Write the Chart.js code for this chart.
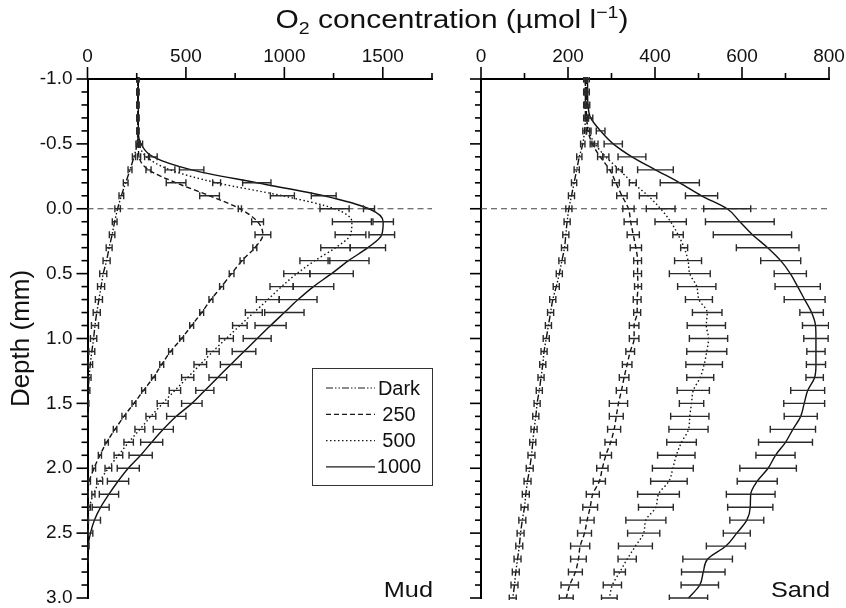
<!DOCTYPE html>
<html>
<head>
<meta charset="utf-8">
<script src="https://cdn.jsdelivr.net/npm/chart.js@4.4.0/dist/chart.umd.min.js"></script>
<style>
  body { margin: 0; background: #fff; }
  #wrap { position: relative; width: 846px; height: 608px; overflow: hidden; font-family: "Liberation Sans", Arial, sans-serif; color: #111; }
  #mudChart { position: absolute; left: 0; top: 0; }
  #sandChart { position: absolute; left: 440px; top: 0; }
  #title { position: absolute; left: 452px; top: 4px; font-size: 26px; line-height: 30px; white-space: nowrap;
           transform: translateX(-50%) scaleX(1.15); }
  #title sub, #title sup { font-size: 17px; line-height: 0; }
</style>
</head>
<body>
<div id="wrap">
  <canvas id="mudChart" width="440" height="608"></canvas>
  <canvas id="sandChart" width="406" height="608"></canvas>
  <div id="title">O<sub>2</sub> concentration (µmol l<sup>−1</sup>)</div>
</div>
<script>
// depth below sediment surface (mm), one row every 0.1 mm
var depth = [-1.0, -0.9, -0.8, -0.7, -0.6, -0.5, -0.4, -0.3, -0.2, -0.1,
              0.0,  0.1,  0.2,  0.3,  0.4,  0.5,  0.6,  0.7,  0.8,  0.9,
              1.0,  1.1,  1.2,  1.3,  1.4,  1.5,  1.6,  1.7,  1.8,  1.9,
              2.0,  2.1,  2.2,  2.3,  2.4,  2.5,  2.6,  2.7,  2.8,  2.9, 3.0];

var seriesNames = ['Dark', '250', '500', '1000'];

// Mud: mean O2 (umol/l) and +-error, null = below detection / not measured
var mudDark = [255, 255, 255, 255, 255, 252, 236, 216, 194, 172,
               153, 138, 125, 110, 97, 80, 69, 58, 47, 38,
               31, 22, 14, 8, 4, 2, 0, null, null, null,
               null, null, null, null, null, null, null, null, null, null, null];
var mudDarkErr = [4, 4, 4, 4, 4, 6, 8, 10, 12, 12,
                  14, 12, 14, 15, 18, 18, 18, 18, 18, 18,
                  16, 15, 12, 10, 8, 5, 3, null, null, null,
                  null, null, null, null, null, null, null, null, null, null, null];

var mud250 = [255, 255, 255, 255, 255, 258, 262, 310, 450, 620,
              774, 864, 891, 850, 785, 732, 681, 627, 580, 529,
              478, 422, 377, 335, 285, 236, 185, 140, 97, 63,
              33, 9, 0, null, null, null, null, null, null, null, null];
var mud250Err = [4, 4, 4, 4, 4, 6, 8, 13, 50, 50,
                 8, 30, 40, 10, 10, 12, 10, 10, 10, 10,
                 10, 10, 10, 10, 10, 10, 10, 9, 9, 8,
                 8, 6, 3, null, null, null, null, null, null, null, null];

var mud500 = [255, 255, 255, 255, 255, 262, 300, 419, 656, 990,
              1255, 1343, 1336, 1260, 1155, 1063, 986, 916, 845, 774,
              705, 637, 573, 509, 444, 382, 322, 266, 209, 157,
              106, 62, 30, 10, 2, 0, null, null, null, null, null];
var mud500Err = [4, 4, 4, 4, 4, 6, 10, 25, 20, 61,
                 74, 99, 78, 75, 76, 66, 59, 58, 43, 37,
                 36, 32, 32, 31, 29, 28, 25, 25, 24, 22,
                 17, 15, 8, 5, 3, 2, null, null, null, null, null];

var mud1000 = [258, 258, 258, 258, 258, 272, 334, 529, 860, 1200,
               1430, 1502, 1495, 1424, 1326, 1240, 1148, 1070, 1000, 930,
               862, 795, 728, 662, 596, 530, 451, 385, 326, 270,
               207, 155, 109, 67, 35, 15, 3, 0, null, null, null];
var mud1000Err = [4, 4, 4, 4, 4, 8, 20, 62, 72, 63,
                  28, 52, 65, 90, 104, 110, 103, 96, 100, 79,
                  71, 60, 53, 45, 46, 52, 49, 51, 56, 59,
                  56, 54, 49, 43, 31, 12, 5, 2, null, null, null];

// Sand
var sandDark = [240, 240, 240, 240, 238, 234, 226, 220, 214, 208,
                202, 198, 195, 192, 186, 180, 173, 165, 160, 155,
                150, 145, 142, 138, 134, 129, 126, 122, 119, 116,
                112, 107, 103, 100, 95, 91, 88, 84, 80, 77, 73];
var sandDarkErr = [4, 4, 4, 4, 4, 5, 6, 6, 6, 7,
                   7, 7, 7, 7, 7, 7, 7, 7, 7, 7,
                   7, 7, 7, 7, 7, 7, 7, 7, 7, 8,
                   8, 8, 8, 8, 8, 8, 8, 8, 8, 8, 8];

var sand250 = [242, 242, 242, 243, 246, 256, 274, 296, 310, 324,
               339, 344, 350, 356, 360, 360, 361, 359, 359, 352,
               352, 343, 336, 329, 323, 316, 311, 306, 298, 287,
               279, 272, 257, 251, 244, 238, 228, 224, 217, 204, 196];
var sand250Err = [3, 3, 3, 3, 4, 5, 6, 6, 8, 12,
                  13, 15, 14, 13, 9, 9, 8, 9, 8, 11,
                  11, 10, 11, 11, 12, 21, 16, 15, 13, 13,
                  13, 14, 15, 17, 16, 16, 22, 18, 16, 20, 16];

var sand500 = [240, 240, 241, 243, 248, 262, 287, 318, 349, 384,
               413, 436, 453, 467, 476, 480, 496, 501, 520, 518,
               523, 519, 513, 504, 488, 484, 480, 477, 461, 449,
               441, 432, 408, 402, 379, 374, 355, 336, 319, 302, 295];
var sand500Err = [3, 3, 3, 4, 5, 7, 7, 7, 8, 20,
                  33, 36, 12, 8, 31, 47, 44, 31, 34, 44,
                  44, 46, 42, 31, 37, 28, 44, 45, 34, 43,
                  47, 42, 48, 40, 46, 37, 39, 21, 13, 21, 18];

var sand1000 = [245, 245, 246, 252, 275, 304, 347, 401, 457, 507,
                566, 595, 624, 659, 689, 711, 728, 744, 760, 769,
                770, 770, 770, 767, 751, 743, 735, 717, 700, 677,
                660, 635, 620, 619, 611, 588, 563, 521, 511, 503, 477];
var sand1000Err = [4, 4, 4, 5, 10, 21, 32, 41, 45, 37,
                   54, 79, 90, 72, 46, 37, 52, 47, 27, 30,
                   28, 21, 22, 20, 39, 47, 38, 52, 62, 45,
                   65, 46, 56, 52, 39, 31, 45, 57, 50, 43, 44];

var lineDashes = [[7, 2, 1.5, 2, 1.5, 2], [5, 3], [1.5, 2.5], []];

function makePoints(vals, errs) {
  var pts = [];
  for (var i = 0; i < depth.length; i++) {
    if (vals[i] === null) continue;
    pts.push({x: vals[i], y: depth[i], e: errs[i]});
  }
  return pts;
}

function makeDatasets(list) {
  return list.map(function (s, i) {
    return {
      label: seriesNames[i],
      data: makePoints(s[0], s[1]),
      borderColor: '#111',
      borderWidth: 1.4,
      borderDash: lineDashes[i],
      pointRadius: 0,
      fill: false,
      cubicInterpolationMode: 'monotone'
    };
  });
}

var extras = {
  id: 'extras',
  beforeDatasetsDraw: function (chart) {
    var ctx = chart.ctx, a = chart.chartArea;
    var y0 = chart.scales.y.getPixelForValue(0);
    ctx.save();
    ctx.strokeStyle = '#444';
    ctx.lineWidth = 1.2;
    ctx.setLineDash([6, 4]);
    ctx.beginPath();
    ctx.moveTo(a.left, y0);
    ctx.lineTo(a.right, y0);
    ctx.stroke();
    ctx.restore();
  },
  afterDatasetsDraw: function (chart) {
    var ctx = chart.ctx, xs = chart.scales.x, a = chart.chartArea;
    ctx.save();
    ctx.beginPath();
    ctx.rect(a.left, a.top - 2, a.right - a.left, a.bottom - a.top + 4);
    ctx.clip();
    ctx.strokeStyle = '#2a2a2a';
    ctx.lineWidth = 1.4;
    ctx.setLineDash([]);
    chart.data.datasets.forEach(function (ds, di) {
      var meta = chart.getDatasetMeta(di);
      meta.data.forEach(function (pt, i) {
        var raw = ds.data[i];
        if (!raw.e) return;
        var x1 = xs.getPixelForValue(raw.x - raw.e);
        var x2 = xs.getPixelForValue(raw.x + raw.e);
        var y = pt.y;
        ctx.beginPath();
        ctx.moveTo(x1, y); ctx.lineTo(x2, y);
        ctx.moveTo(x1, y - 3.5); ctx.lineTo(x1, y + 3.5);
        ctx.moveTo(x2, y - 3.5); ctx.lineTo(x2, y + 3.5);
        ctx.stroke();
      });
    });
    ctx.restore();
  },
  afterDraw: function (chart) {
    var ctx = chart.ctx, a = chart.chartArea;
    var opts = chart.options.plugins.extras;
    var xs = chart.scales.x, ys = chart.scales.y;
    ctx.save();
    // tick marks, long on labelled values
    ctx.strokeStyle = '#000';
    ctx.lineWidth = 1.6;
    xs.ticks.forEach(function (t) {
      var px = xs.getPixelForValue(t.value);
      var len = Math.round(t.value) % opts.xMajor === 0 ? 12 : 6;
      ctx.beginPath(); ctx.moveTo(px, a.top); ctx.lineTo(px, a.top - len); ctx.stroke();
    });
    ys.ticks.forEach(function (t) {
      var py = ys.getPixelForValue(t.value);
      var len = Math.round(t.value * 10) % 5 === 0 ? 11 : 6;
      ctx.beginPath(); ctx.moveTo(a.left, py); ctx.lineTo(a.left - len, py); ctx.stroke();
    });
    // panel name
    ctx.fillStyle = '#111';
    ctx.font = '22px "Liberation Sans", Arial, sans-serif';
    ctx.textAlign = 'right';
    ctx.textBaseline = 'alphabetic';
    ctx.translate(a.right + 1, a.bottom - 1);
    ctx.scale(1.15, 1);
    ctx.fillText(opts.name, 0, 0);
    ctx.restore();

    if (!opts.legend) return;
    ctx.save();
    ctx.strokeStyle = '#333';
    ctx.lineWidth = 1;
    ctx.strokeRect(312.5, 368.5, 120, 117);
    ctx.font = '20px "Liberation Sans", Arial, sans-serif';
    ctx.fillStyle = '#111';
    ctx.textAlign = 'center';
    ctx.textBaseline = 'middle';
    chart.data.datasets.forEach(function (ds, i) {
      var y = 388 + i * 26.3;
      ctx.setLineDash(ds.borderDash);
      ctx.lineWidth = 1.2;
      ctx.strokeStyle = '#1a1a1a';
      ctx.beginPath(); ctx.moveTo(326, y); ctx.lineTo(375, y); ctx.stroke();
      ctx.fillText(ds.label, 399, y + 1);
    });
    ctx.restore();
  }
};

var tickFont = {family: '"Liberation Sans", Arial, sans-serif', size: 19, lineHeight: 1.0};

function makeChart(id, series, xMax, xStep, xMajor, name, showY, yWidth, padRight, legend) {
  return new Chart(document.getElementById(id), {
    type: 'line',
    data: {datasets: makeDatasets(series)},
    options: {
      responsive: false,
      animation: false,
      indexAxis: 'y',
      layout: {padding: {left: 0, top: 0, right: padRight, bottom: 10}},
      plugins: {
        legend: {display: false},
        tooltip: {enabled: false},
        extras: {xMajor: xMajor, name: name, legend: legend}
      },
      scales: {
        x: {
          type: 'linear', position: 'top', min: 0, max: xMax, offset: false,
          grid: {display: true, drawOnChartArea: false, drawTicks: false},
          border: {display: true, color: '#000', width: 2},
          ticks: {
            stepSize: xStep, autoSkip: false, maxRotation: 0, padding: 13,
            color: '#111', font: tickFont,
            callback: function (v) { return Math.round(v) % xMajor === 0 ? String(v) : ''; }
          },
          afterFit: function (s) { s.height = 79; s.paddingLeft = 0; s.paddingRight = 0; }
        },
        y: {
          type: 'linear', reverse: true, min: -1, max: 3, offset: false,
          grid: {display: true, drawOnChartArea: false, drawTicks: false},
          border: {display: true, color: '#000', width: 2},
          title: {display: showY, text: 'Depth (mm)', color: '#111',
                  font: {family: '"Liberation Sans", Arial, sans-serif', size: 26}, padding: {top: 6, bottom: 0}},
          ticks: {
            stepSize: 0.1, autoSkip: false, padding: 15, color: '#111', font: tickFont,
            display: showY,
            callback: function (v) { return Math.round(v * 10) % 5 === 0 ? v.toFixed(1) : ''; }
          },
          afterFit: function (s) { s.width = yWidth; s.paddingTop = 0; s.paddingBottom = 0; }
        }
      }
    },
    plugins: [extras]
  });
}

makeChart('mudChart',
  [[mudDark, mudDarkErr], [mud250, mud250Err], [mud500, mud500Err], [mud1000, mud1000Err]],
  1750, 250, 500, 'Mud', true, 87.5, 8, true);

makeChart('sandChart',
  [[sandDark, sandDarkErr], [sand250, sand250Err], [sand500, sand500Err], [sand1000, sand1000Err]],
  800, 100, 200, 'Sand', false, 41, 17, false);
</script>
</body>
</html>
